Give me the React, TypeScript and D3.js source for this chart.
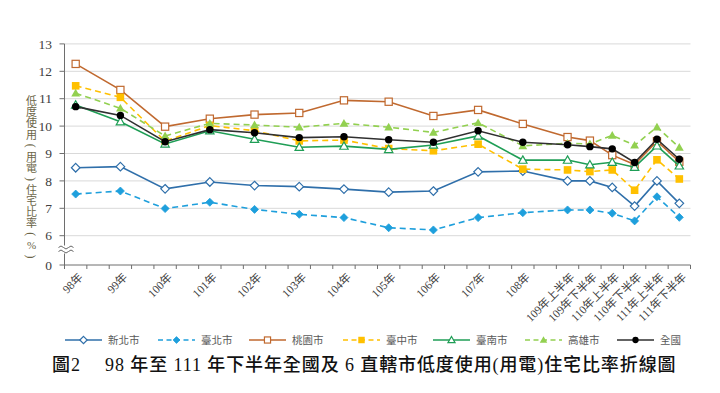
import React from 'react';
import * as d3 from 'd3';

const categories = [
  '98年', '', '99年', '', '100年', '', '101年', '', '102年', '', '103年', '',
  '104年', '', '105年', '', '106年', '', '107年', '', '108年', '',
  '109年上半年', '109年下半年', '110年上半年', '110年下半年', '111年上半年', '111年下半年',
];
const yTicks = [0, 6, 7, 8, 9, 10, 11, 12, 13];

const newTaipei = [8.48, 8.52, 7.71, 7.96, 7.83, 7.79, 7.70, 7.59, 7.63, 8.33, 8.36, 8.00, 8.00, 7.76, 7.08, 8.00, 7.18];
const taipei = [7.52, 7.63, 6.99, 7.22, 6.96, 6.78, 6.66, 6.29, 6.21, 6.66, 6.84, 6.94, 6.94, 6.82, 6.54, 7.42, 6.67];
const taoyuan = [12.27, 11.32, 9.98, 10.27, 10.42, 10.48, 10.94, 10.89, 10.37, 10.59, 10.08, 9.60, 9.47, 8.94, 8.60, 9.45, 8.70];
const taichung = [11.47, 11.05, 9.45, 10.02, 9.83, 9.46, 9.49, 9.18, 9.10, 9.34, 8.43, 8.40, 8.34, 8.40, 7.66, 8.77, 8.07];
const tainan = [10.77, 10.16, 9.35, 9.83, 9.52, 9.23, 9.27, 9.15, 9.31, 9.64, 8.76, 8.76, 8.59, 8.68, 8.50, 9.28, 8.55];
const kaohsiung = [11.20, 10.65, 9.64, 10.10, 10.04, 9.96, 10.10, 9.96, 9.77, 10.12, 9.28, 9.37, 9.35, 9.66, 9.30, 9.96, 9.22];
const national = [10.71, 10.39, 9.43, 9.87, 9.76, 9.58, 9.61, 9.50, 9.41, 9.83, 9.41, 9.32, 9.25, 9.17, 8.67, 9.52, 8.79];

const seriesNames = ['新北市', '臺北市', '桃園市', '臺中市', '臺南市', '高雄市', '全國'];
const yTitle = '低度使用(用電)住宅比率(%)';
const chartTitle = '圖2\u2003 98 年至 111 年下半年全國及 6 直轄市低度使用(用電)住宅比率折線圖';

type Marker = 'diamondOpen' | 'diamond' | 'squareOpen' | 'square' | 'triangleOpen' | 'triangle' | 'circle';
const seriesDefs: { name: string; values: number[]; color: string; dash: string | null; marker: Marker }[] = [
  { name: seriesNames[0], values: newTaipei, color: '#2f6faa', dash: null, marker: 'diamondOpen' },
  { name: seriesNames[1], values: taipei, color: '#1e9fdc', dash: '6,4', marker: 'diamond' },
  { name: seriesNames[2], values: taoyuan, color: '#c0692f', dash: null, marker: 'squareOpen' },
  { name: seriesNames[3], values: taichung, color: '#ffc000', dash: '6,4', marker: 'square' },
  { name: seriesNames[4], values: tainan, color: '#1f9e56', dash: null, marker: 'triangleOpen' },
  { name: seriesNames[5], values: kaohsiung, color: '#92d050', dash: '6,4', marker: 'triangle' },
  { name: seriesNames[6], values: national, color: '#303030', dash: null, marker: 'circle' },
];

const SERIF = "'Liberation Serif','Noto Sans CJK TC',serif";

function MarkerShape({ type, x, y, color, s = 1 }: { type: Marker; x: number; y: number; color: string; s?: number }) {
  switch (type) {
    case 'diamondOpen': {
      const r = 4.3 * s;
      return <path d={`M${x},${y - r}L${x + r},${y}L${x},${y + r}L${x - r},${y}Z`} fill="#fff" stroke={color} strokeWidth={1.2} />;
    }
    case 'diamond': {
      const r = 4 * s;
      return <path d={`M${x},${y - r}L${x + r},${y}L${x},${y + r}L${x - r},${y}Z`} fill={color} stroke={color} strokeWidth={0.8} />;
    }
    case 'squareOpen': {
      const r = 3.6 * s;
      return <rect x={x - r} y={y - r} width={2 * r} height={2 * r} fill="#fff" stroke={color} strokeWidth={1.2} />;
    }
    case 'square': {
      const r = 3.8 * s;
      return <rect x={x - r} y={y - r} width={2 * r} height={2 * r} fill={color} />;
    }
    case 'triangleOpen': {
      const r = 4.2 * s;
      return <path d={`M${x},${y - r}L${x + r},${y + r * 0.75}L${x - r},${y + r * 0.75}Z`} fill="#fff" stroke={color} strokeWidth={1.2} />;
    }
    case 'triangle': {
      const r = 4.4 * s;
      return <path d={`M${x},${y - r}L${x + r},${y + r * 0.75}L${x - r},${y + r * 0.75}Z`} fill={color} />;
    }
    case 'circle':
    default:
      return <circle cx={x} cy={y} r={3.7 * s} fill="#000" />;
  }
}

export default function App() {
  const W = 720, H = 393;
  const x = d3.scaleBand<number>().domain(d3.range(categories.length)).range([64.5, 690.5]).paddingInner(0).paddingOuter(0);
  const y = d3.scaleLinear().domain([0, 6, 13]).range([265, 235.7, 43.9]);
  const pointSlots = categories.map((c, i) => (c ? i : -1)).filter((i) => i >= 0);
  const cx = (i: number) => (x(i) as number) + x.bandwidth() / 2;

  const line = d3.line<[number, number]>().x((d) => d[0]).y((d) => d[1]);
  const x0 = 64.5, xEnd = 690.5;
  const wave = (yy: number) => `M${x0 - 6},${yy} q2.5,-3 5,0 t5,0 t5,0`;

  const legendX = [65, 158, 249, 343, 433, 525, 617];
  const titleChars = Array.from(yTitle);

  return (
    <svg width={W} height={H} style={{ position: 'absolute', left: 0, top: 0, background: '#fff' }}>
      <rect width={W} height={H} fill="#fff" />
      {/* gridlines */}
      {yTicks.filter((t) => t >= 6).map((t) => (
        <line key={t} x1={x0} x2={xEnd} y1={y(t)} y2={y(t)} stroke="#d9d9d9" strokeWidth={1} />
      ))}
      {/* y axis */}
      <line x1={x0} x2={x0} y1={y(13)} y2={y(0)} stroke="#6e6e6e" strokeWidth={1} />
      {yTicks.map((t) => (
        <g key={t}>
          <line x1={x0 - 5} x2={x0} y1={y(t)} y2={y(t)} stroke="#6e6e6e" strokeWidth={1} />
          <text x={52} y={y(t)} dy="0.35em" textAnchor="end" fontFamily={SERIF} fontSize={13.5} fill="#404040">{t}</text>
        </g>
      ))}
      {/* axis break */}
      <rect x={x0 - 7} y={245.5} width={16} height={8} fill="#fff" />
      <path d={wave(247.5)} fill="none" stroke="#555" strokeWidth={0.9} />
      <path d={wave(251.5)} fill="none" stroke="#555" strokeWidth={0.9} />
      {/* x axis */}
      <line x1={x0} x2={xEnd} y1={y(0)} y2={y(0)} stroke="#6e6e6e" strokeWidth={1} />
      {d3.range(categories.length + 1).map((i) => {
        const xx = i < categories.length ? (x(i) as number) : xEnd;
        return <line key={i} x1={xx} x2={xx} y1={y(0)} y2={y(0) + 4} stroke="#6e6e6e" strokeWidth={1} />;
      })}
      {categories.map((c, i) =>
        c ? (
          <text key={i} transform={`translate(${cx(i) + 5},${275}) rotate(-45)`} dy="0.35em" textAnchor="end"
            fontFamily={SERIF} fontSize={11.5} fill="#404040">{c}</text>
        ) : null
      )}
      {/* y title (vertical) */}
      {titleChars.map((ch, i) => {
        const cy = 101.5 + i * 11.07;
        const isP = ch === '(' || ch === ')';
        return (
          <text key={i} transform={`translate(31.5,${cy})${isP ? ' rotate(90)' : ''}`} textAnchor="middle" dy="0.35em"
            fontFamily={SERIF} fontSize={isP ? 12 : 11} fill="#6b6547">{ch}</text>
        );
      })}
      {/* series */}
      {seriesDefs.map((s) => {
        const pts: [number, number][] = s.values.map((v, k) => [cx(pointSlots[k]), y(v)]);
        return (
          <g key={s.name}>
            <path d={line(pts) as string} fill="none" stroke={s.color} strokeWidth={1.6} strokeDasharray={s.dash ?? undefined} />
            {pts.map((p, k) => (
              <MarkerShape key={k} type={s.marker} x={p[0]} y={p[1]} color={s.color} />
            ))}
          </g>
        );
      })}
      {/* legend */}
      {seriesDefs.map((s, i) => (
        <g key={s.name}>
          <line x1={legendX[i]} x2={legendX[i] + 37} y1={340} y2={340} stroke={s.color} strokeWidth={1.6} strokeDasharray={s.dash ? '5,3.5' : undefined} />
          <MarkerShape type={s.marker} x={legendX[i] + 18.5} y={340} color={s.color} s={0.85} />
          <text x={legendX[i] + 43} y={340} dy="0.35em" fontFamily={SERIF} fontSize={10.5} fill="#595959">{s.name}</text>
        </g>
      ))}
      {/* title */}
      <text x={52} y={365} dy="0.35em" fontFamily={SERIF} fontSize={18} fontWeight={500} fill="#111" letterSpacing={0.9} xmlSpace="preserve">
        {chartTitle}
      </text>
    </svg>
  );
}
